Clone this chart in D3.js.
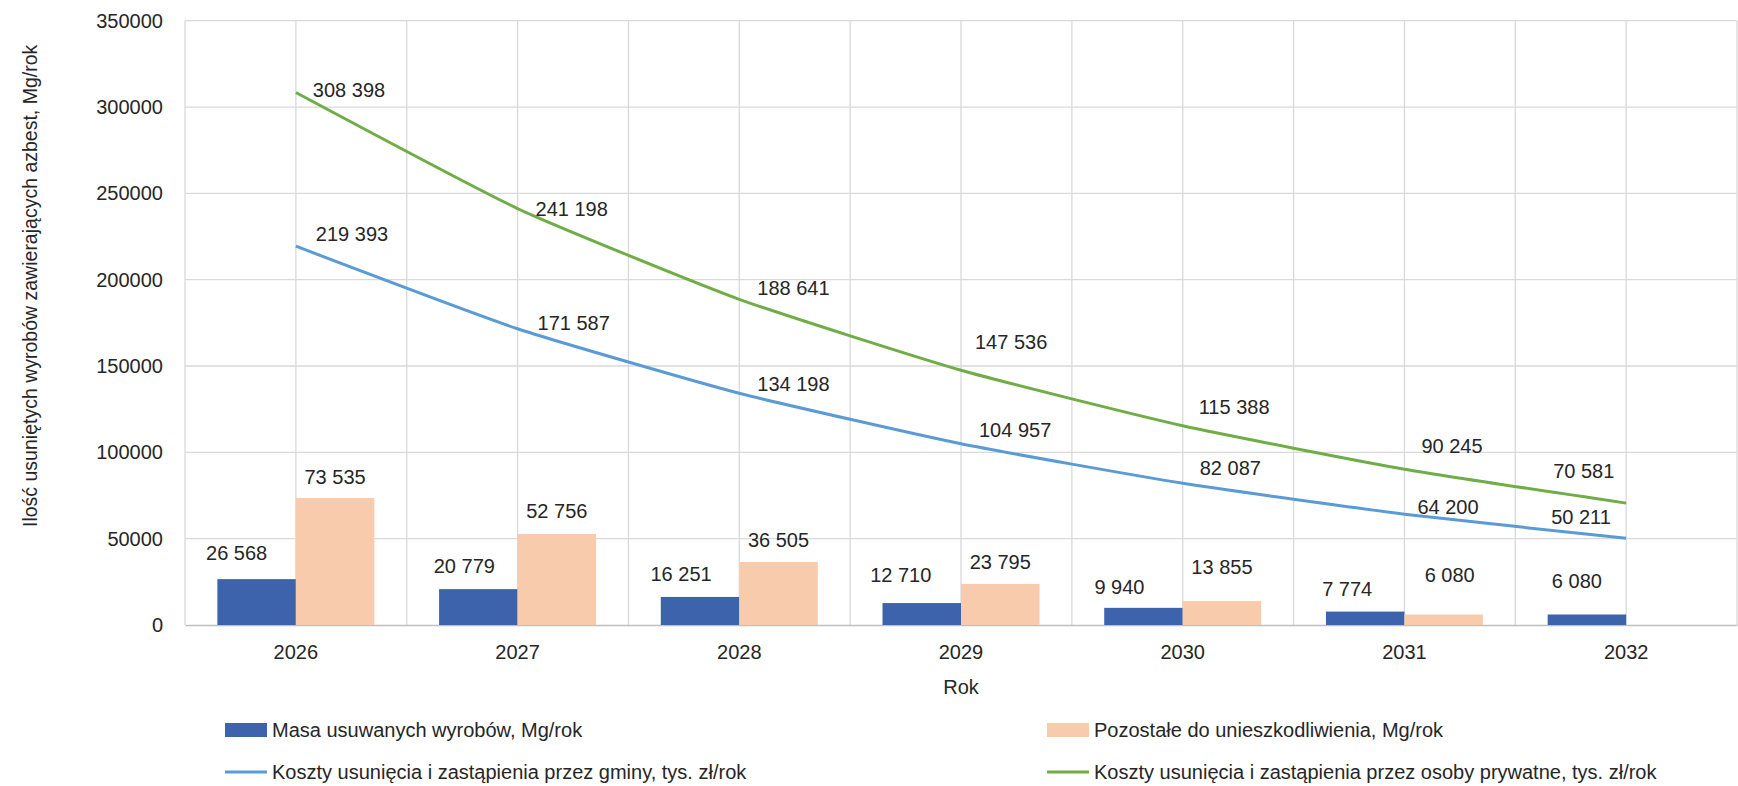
<!DOCTYPE html>
<html><head><meta charset="utf-8">
<script src="https://cdn.jsdelivr.net/npm/d3@7"></script>
<style>
html,body{margin:0;padding:0;background:#fff;}
svg text{font-family:"Liberation Sans",Arial,sans-serif;fill:#262626;}
</style></head>
<body><svg id="c" width="1738" height="786"></svg>
<script>
// ---- data ----
const years = ["2026","2027","2028","2029","2030","2031","2032"];
const masa = [26568, 20779, 16251, 12710, 9940, 7774, 6080];
const pozostale = [73535, 52756, 36505, 23795, 13855, 6080, null];
const kosztyGminy = [219393, 171587, 134198, 104957, 82087, 64200, 50211];
const kosztyPrywatne = [308398, 241198, 188641, 147536, 115388, 90245, 70581];
const yTicks = [0, 50000, 100000, 150000, 200000, 250000, 300000, 350000];
const seriesNames = ["Masa usuwanych wyrobów, Mg/rok", "Pozostałe do unieszkodliwienia, Mg/rok",
  "Koszty usunięcia i zastąpienia przez gminy, tys. zł/rok", "Koszty usunięcia i zastąpienia przez osoby prywatne, tys. zł/rok"];
const yTitle = "Ilość usuniętych wyrobów zawierających azbest, Mg/rok";
const xTitle = "Rok";

// ---- label nudges (layout config) ----
const nudgeMasa = [[-20,-26],[-14,-23],[-19,-23],[-21,-28],[-24,-21],[-18,-23],[-10,-34]];
const nudgePoz = [[0,-21],[0,-23],[0,-22],[0,-22],[0,-34],[6,-40],[0,0]];
const nudgeGminy = [[20,-12],[20,-6],[18,-9],[18,-14],[17,-15],[13,-7],[-75,-21]];
const nudgePryw = [[17,-3],[18,0],[18,-11],[14,-28],[16,-19],[17,-23],[-73,-32]];

const colors = {masa:"#3C63AC", poz:"#F8CBAD", gminy:"#5B9BD5", pryw:"#70AD47"};
const svg = d3.select("#c");
const L = 185, R = 1737, T = 20.7, B = 625;
const x = d3.scaleBand().domain(years).range([L, R]).padding(0);
const y = d3.scaleLinear().domain([0, 350000]).range([B, T]);
const fmt = d3.formatLocale({decimal:",", thousands:" ", grouping:[3], currency:["",""]}).format(",d");
const bw = x.bandwidth();
const barW = bw * 0.354;

// gridlines
const g = svg.append("g");
g.selectAll("line.h").data(yTicks.filter(d=>d>0)).join("line")
  .attr("x1", L).attr("x2", R).attr("y1", d=>y(d)).attr("y2", d=>y(d))
  .attr("stroke", "#D9D9D9").attr("stroke-width", 1.3);
const vx = [];
years.forEach(c => { vx.push(x(c)); vx.push(x(c) + bw/2); });
vx.push(R);
g.selectAll("line.v").data(vx).join("line")
  .attr("x1", d=>d).attr("x2", d=>d).attr("y1", T).attr("y2", B)
  .attr("stroke", "#D9D9D9").attr("stroke-width", 1.3);

// y axis labels
const ya = svg.append("g").attr("transform", `translate(${L},0)`)
  .call(d3.axisLeft(y).tickValues(yTicks).tickFormat(d3.format("d")).tickSize(0).tickPadding(22));
ya.select(".domain").remove();
ya.selectAll("text").style("font-size","20px").style("font-family","Liberation Sans, Arial, sans-serif").attr("fill","#262626");

// x axis
const xa = svg.append("g").attr("transform", `translate(0,${B})`)
  .call(d3.axisBottom(x).tickSize(0).tickPadding(20));
xa.select(".domain").attr("stroke","#BFBFBF").attr("stroke-width",1.5);
xa.selectAll("text").style("font-size","20px").style("font-family","Liberation Sans, Arial, sans-serif").attr("fill","#262626");

// bars
svg.append("g").selectAll("rect").data(masa).join("rect")
  .attr("x", (d,i)=>x(years[i]) + bw/2 - barW).attr("width", barW)
  .attr("y", d=>y(d)).attr("height", d=>B - y(d)).attr("fill", colors.masa);
svg.append("g").selectAll("rect").data(pozostale.map((v,i)=>({v,i})).filter(d=>d.v!=null)).join("rect")
  .attr("x", d=>x(years[d.i]) + bw/2).attr("width", barW)
  .attr("y", d=>y(d.v)).attr("height", d=>B - y(d.v)).attr("fill", colors.poz);

// lines
const line = d3.line().x((d,i)=>x(years[i]) + bw/2).y(d=>y(d)).curve(d3.curveCardinal.tension(0.5));
svg.append("path").datum(kosztyGminy).attr("d", line).attr("fill","none").attr("stroke",colors.gminy).attr("stroke-width",3);
svg.append("path").datum(kosztyPrywatne).attr("d", line).attr("fill","none").attr("stroke",colors.pryw).attr("stroke-width",3);

// labels
const lab = svg.append("g").style("font-size","20px");
masa.forEach((v,i)=>{
  lab.append("text").attr("x", x(years[i]) + bw/2 - barW/2 + nudgeMasa[i][0]).attr("y", y(v) + nudgeMasa[i][1])
    .attr("dy","0.35em").attr("text-anchor","middle").text(fmt(v));
});
pozostale.forEach((v,i)=>{
  if (v==null) return;
  lab.append("text").attr("x", x(years[i]) + bw/2 + barW/2 + nudgePoz[i][0]).attr("y", y(v) + nudgePoz[i][1])
    .attr("dy","0.35em").attr("text-anchor","middle").text(fmt(v));
});
kosztyGminy.forEach((v,i)=>{
  lab.append("text").attr("x", x(years[i]) + bw/2 + nudgeGminy[i][0]).attr("y", y(v) + nudgeGminy[i][1])
    .attr("dy","0.35em").attr("text-anchor","start").text(fmt(v));
});
kosztyPrywatne.forEach((v,i)=>{
  lab.append("text").attr("x", x(years[i]) + bw/2 + nudgePryw[i][0]).attr("y", y(v) + nudgePryw[i][1])
    .attr("dy","0.35em").attr("text-anchor","start").text(fmt(v));
});

// axis titles
svg.append("text").attr("transform", `translate(30,${(T+B)/2 - 37}) rotate(-90)`)
  .attr("text-anchor","middle").attr("dy","0.35em").style("font-size","19.5px").text(yTitle);
svg.append("text").attr("x", (L+R)/2 - 0).attr("y", 687).attr("dy","0.35em")
  .attr("text-anchor","middle").style("font-size","20px").text(xTitle);

// legend
const leg = svg.append("g").style("font-size","20px");
const legItems = [
  {name:seriesNames[0], type:"rect", color:colors.masa, x:225, y:730},
  {name:seriesNames[1], type:"rect", color:colors.poz, x:1047, y:730},
  {name:seriesNames[2], type:"line", color:colors.gminy, x:225, y:772},
  {name:seriesNames[3], type:"line", color:colors.pryw, x:1047, y:772}
];
legItems.forEach(it=>{
  if (it.type==="rect") leg.append("rect").attr("x", it.x).attr("y", it.y-7).attr("width",42).attr("height",14).attr("fill",it.color);
  else leg.append("line").attr("x1", it.x).attr("x2", it.x+42).attr("y1", it.y).attr("y2", it.y).attr("stroke",it.color).attr("stroke-width",3);
  leg.append("text").attr("x", it.x+47).attr("y", it.y).attr("dy","0.35em").text(it.name);
});
</script>
</body></html>
